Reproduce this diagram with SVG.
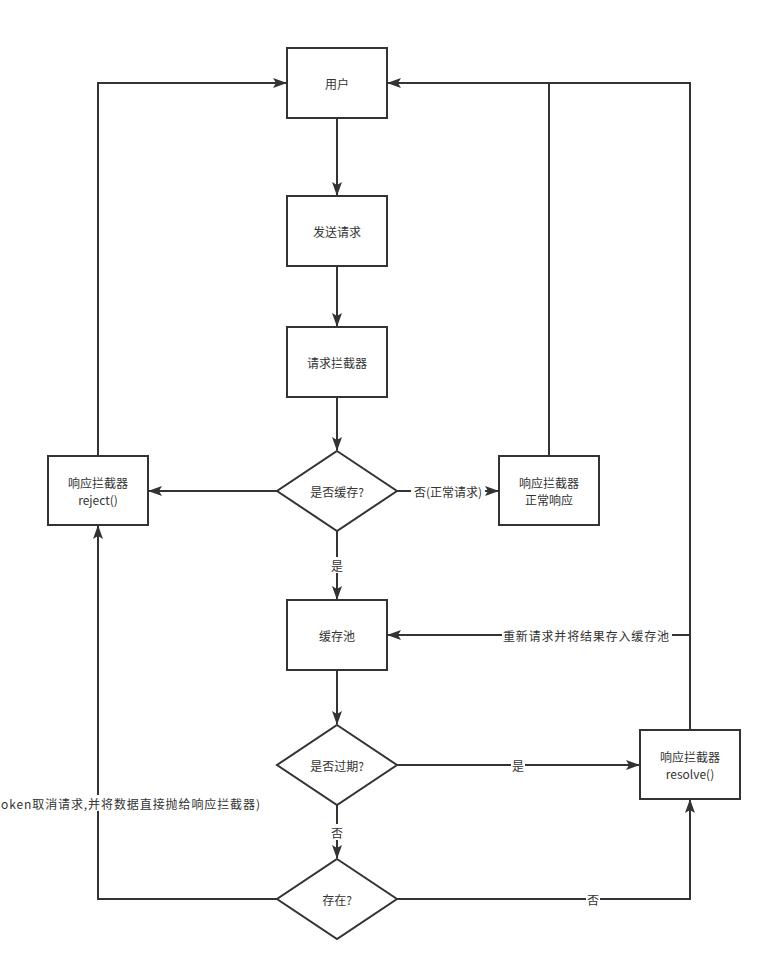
<svg xmlns="http://www.w3.org/2000/svg" width="772" height="971" viewBox="0 0 772 971">
<style>
.box{fill:#fff;stroke:#333;stroke-width:2}
.t{font-family:"Noto Sans CJK SC","Microsoft YaHei",sans-serif;font-size:12px;fill:#333;text-anchor:middle;dominant-baseline:central}
.ln{fill:none;stroke:#333;stroke-width:2}
.lb{fill:#fff}
</style>
<defs>
<marker id="ar" viewBox="0 0 14 10" refX="13" refY="5" markerWidth="14" markerHeight="10" markerUnits="userSpaceOnUse" orient="auto">
<path d="M0,0 L14,5 L0,10 L3,5 Z" fill="#333"/>
</marker>
</defs>
<rect width="772" height="971" fill="#fff"/>
<g id="connectors">
<path class="ln" d="M337,118 V195" marker-end="url(#ar)"/>
<path class="ln" d="M337,266 V326" marker-end="url(#ar)"/>
<path class="ln" d="M337,397 V450" marker-end="url(#ar)"/>
<path class="ln" d="M277,491 H149" marker-end="url(#ar)"/>
<path class="ln" d="M397,491 H498" marker-end="url(#ar)"/>
<path class="ln" d="M337,531 V599" marker-end="url(#ar)"/>
<path class="ln" d="M98,456 V83 H286" marker-end="url(#ar)"/>
<path class="ln" d="M549,456 V83 H388" marker-end="url(#ar)"/>
<path class="ln" d="M690,730 V83 H549"/>
<path class="ln" d="M690,635 H388" marker-end="url(#ar)"/>
<path class="ln" d="M337,670 V724" marker-end="url(#ar)"/>
<path class="ln" d="M397,765 H639" marker-end="url(#ar)"/>
<path class="ln" d="M337,805 V858" marker-end="url(#ar)"/>
<path class="ln" d="M277,899 H98 V526" marker-end="url(#ar)"/>
<path class="ln" d="M397,899 H690 V800" marker-end="url(#ar)"/>
<rect class="lb" x="411" y="483" width="74" height="16"/>
<text class="t" x="448" y="491">否(正常请求)</text>
<rect class="lb" x="330" y="557" width="14" height="16"/>
<text class="t" x="337" y="565">是</text>
<rect class="lb" x="502" y="627" width="170" height="16"/>
<text class="t" x="586" y="635" textLength="166" lengthAdjust="spacing">重新请求并将结果存入缓存池</text>
<rect class="lb" x="511" y="757" width="14" height="16"/>
<text class="t" x="518" y="765">是</text>
<rect class="lb" x="330" y="824" width="14" height="16"/>
<text class="t" x="337" y="832">否</text>
<rect class="lb" x="586" y="891" width="14" height="16"/>
<text class="t" x="593" y="899">否</text>
<rect class="lb" x="0" y="795" width="262" height="16"/>
<text class="t" x="1" y="803" style="text-anchor:start" textLength="259" lengthAdjust="spacing">oken取消请求,并将数据直接抛给响应拦截器)</text>
</g>
<g id="user"><rect class="box" x="287" y="48" width="100" height="70"/><text class="t" x="337" y="83">用户</text></g>
<g id="send"><rect class="box" x="287" y="196" width="100" height="70"/><text class="t" x="337" y="231">发送请求</text></g>
<g id="reqInterceptor"><rect class="box" x="287" y="327" width="100" height="70"/><text class="t" x="337" y="362">请求拦截器</text></g>
<g id="isCached"><path class="box" d="M337,451 L397,491 L337,531 L277,491 Z"/><text class="t" x="337" y="491">是否缓存?</text></g>
<g id="reject"><rect class="box" x="48" y="456" width="100" height="69"/><text class="t" x="98" y="482">响应拦截器</text><text class="t" x="98" y="499">reject()</text></g>
<g id="normal"><rect class="box" x="499" y="456" width="100" height="69"/><text class="t" x="549" y="482">响应拦截器</text><text class="t" x="549" y="499">正常响应</text></g>
<g id="pool"><rect class="box" x="287" y="600" width="100" height="70"/><text class="t" x="337" y="635">缓存池</text></g>
<g id="expired"><path class="box" d="M337,725 L397,765 L337,805 L277,765 Z"/><text class="t" x="337" y="765">是否过期?</text></g>
<g id="exists"><path class="box" d="M337,859 L397,899 L337,939 L277,899 Z"/><text class="t" x="337" y="899">存在?</text></g>
<g id="resolve"><rect class="box" x="640" y="730" width="100" height="69"/><text class="t" x="690" y="756">响应拦截器</text><text class="t" x="690" y="773">resolve()</text></g>
</svg>
